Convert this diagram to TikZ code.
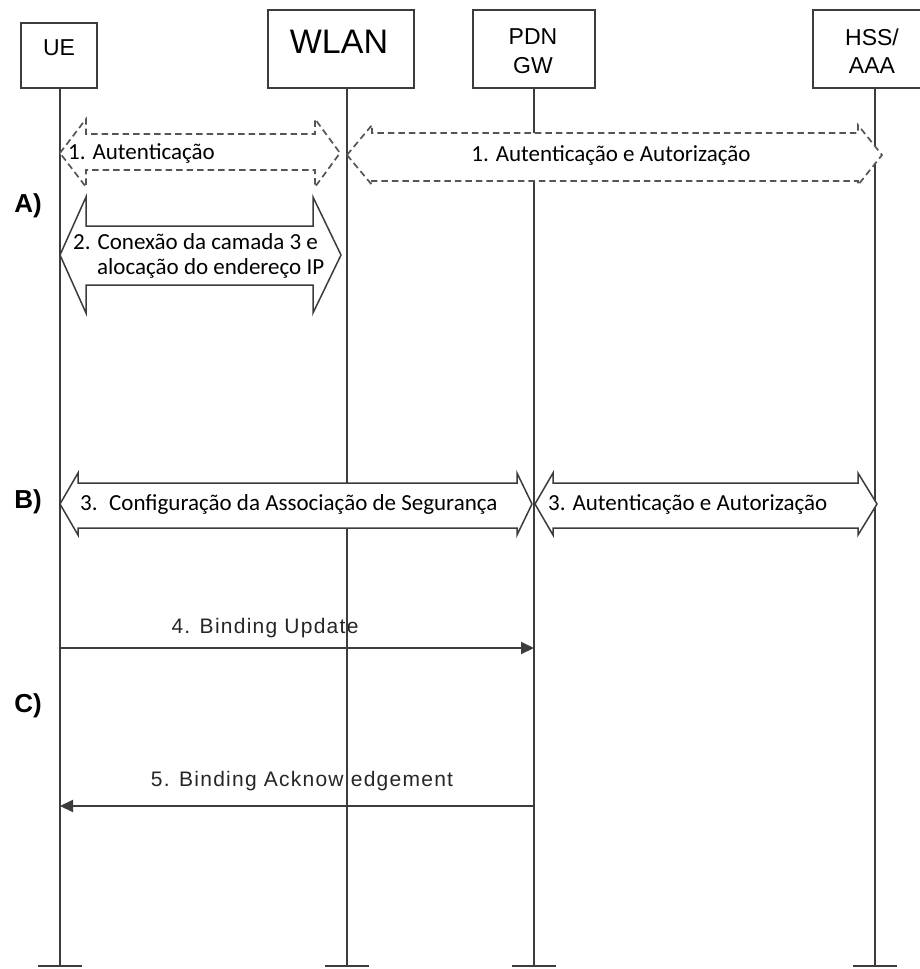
\documentclass[tikz,border=0pt]{standalone}
\usepackage{fontspec}
\setmainfont{Liberation Sans}
\newfontfamily\lblfont{Carlito}
\newfontfamily\msgfont[LetterSpace=6]{Liberation Sans}
\usetikzlibrary{arrows.meta}
\definecolor{linegray}{HTML}{3C3C3C}
\definecolor{dashgray}{HTML}{555555}

% block double arrow: #1 style, #2 left tip x, #3 left head base x,
% #4 right head base x, #5 right tip x, #6 body top y, #7 body bottom y,
% #8 head top y, #9 head bottom y
\newcommand\blkarrow[9]{%
  \pgfmathsetmacro\tipy{(#8+#9)/2}%
  \draw[#1] (#2,\tipy) -- (#3,#8) -- (#3,#6) -- (#4,#6) -- (#4,#8) -- (#5,\tipy)
     -- (#4,#9) -- (#4,#7) -- (#3,#7) -- (#3,#9) -- cycle;}

\begin{document}
\begin{tikzpicture}[x=1pt,y=-1pt,
  box/.style={draw=linegray, line width=1.8pt, rectangle, inner sep=0pt},
  lifeline/.style={draw=linegray, line width=2pt},
  endbar/.style={draw=linegray, line width=2.6pt},
  dashblock/.style={draw=dashgray, line width=1.7pt, dash pattern=on 6.5pt off 4pt, fill=white, line join=miter},
  solidblock/.style={draw=linegray, line width=1.5pt, fill=white},
  lbl/.style={font=\lblfont\fontsize{23}{26}\selectfont, inner sep=0pt, text=black},
  msg/.style={draw=linegray, line width=2pt, -{Triangle[length=13pt,width=12pt]}},
  msgtxt/.style={font=\msgfont\fontsize{21}{24}\selectfont, inner sep=0pt, text=black!85},
  phase/.style={font=\bfseries\fontsize{26}{28}\selectfont, inner sep=0pt},
  head/.style={inner sep=0pt, align=center},
]
\clip (0,0) rectangle (920,969);
\fill[white] (0,0) rectangle (920,969);

% participant boxes
\node[box, minimum width=76pt, minimum height=65pt] (ue) at (59,55.5) {};
\node[head, font=\fontsize{23}{26}\selectfont] (uet) at (59,48) {UE};
\node[box, minimum width=146pt, minimum height=78pt] (wlan) at (341,49) {};
\node[head, font=\fontsize{34}{38}\selectfont] (wlant) at (339,42) {WLAN};
\node[box, minimum width=122pt, minimum height=78pt] (pdn) at (534,49) {};
\node[head, font=\fontsize{23}{28.5}\selectfont] (pdnt) at (533,51) {PDN\\GW};
\node[box, minimum width=124pt, minimum height=78pt] (hss) at (875,49) {};
\node[head, font=\fontsize{23}{28.5}\selectfont] (hsst) at (872,51) {HSS/\\AAA};

% lifeline end points
\coordinate (ueTop) at (60,88);   \coordinate (ueBot) at (60,966);
\coordinate (wlTop) at (347,88);  \coordinate (wlBot) at (347,966);
\coordinate (pdTop) at (534,88);  \coordinate (pdBot) at (534,966);
\coordinate (hsTop) at (875,88);  \coordinate (hsBot) at (875,966);

% message labels lie under the lifelines
\node[msgtxt] (bu) at (265,628) {4. Binding Update};
\node[msgtxt] (ba) at (302,781) {5. Binding Acknowledgement};

% lifelines with end bars
\foreach \t/\b in {ueTop/ueBot, wlTop/wlBot, pdTop/pdBot, hsTop/hsBot}{
  \draw[lifeline] (\t) -- (\b);
  \draw[endbar] (\b) ++(-22,0) -- ++(44,0);
}

% phase markers
\node[phase] (pa) at (28,206) {A)};
\node[phase] (pb) at (28,502) {B)};
\node[phase] (pc) at (28,706) {C)};

% phase A
\blkarrow{dashblock}{60}{86}{315}{340}{134}{170}{119}{187}
\node[lbl, anchor=west] (l1a) at (68,153) {1. Autenticação};
\blkarrow{dashblock}{347}{372}{858}{882}{133}{181}{125}{185}
\node[lbl] (l1b) at (611,155) {1. Autenticação e Autorização};
\blkarrow{solidblock}{60}{86}{313}{341}{226}{285}{197}{313}
\node[lbl, anchor=west] (l2a) at (73,242) {2. Conexão da camada 3 e};
\node[lbl, anchor=west] (l2b) at (97,268) {alocação do endereço IP};

% phase B
\blkarrow{solidblock}{60}{78}{517}{532}{483}{528}{473}{535}
\node[lbl, anchor=west] (l3a) at (80,504) {3.\enspace Configuração da Associação de Segurança};
\blkarrow{solidblock}{535}{553}{858}{877}{483}{528}{473}{535}
\node[lbl, anchor=west] (l3b) at (548,504) {3. Autenticação e Autorização};

% phase C messages
\coordinate (buS) at (60,648);  \coordinate (buE) at (534,648);
\coordinate (baS) at (534,806); \coordinate (baE) at (60,806);
\draw[msg] (buS) -- (buE);
\draw[msg] (baS) -- (baE);
\end{tikzpicture}
\end{document}
